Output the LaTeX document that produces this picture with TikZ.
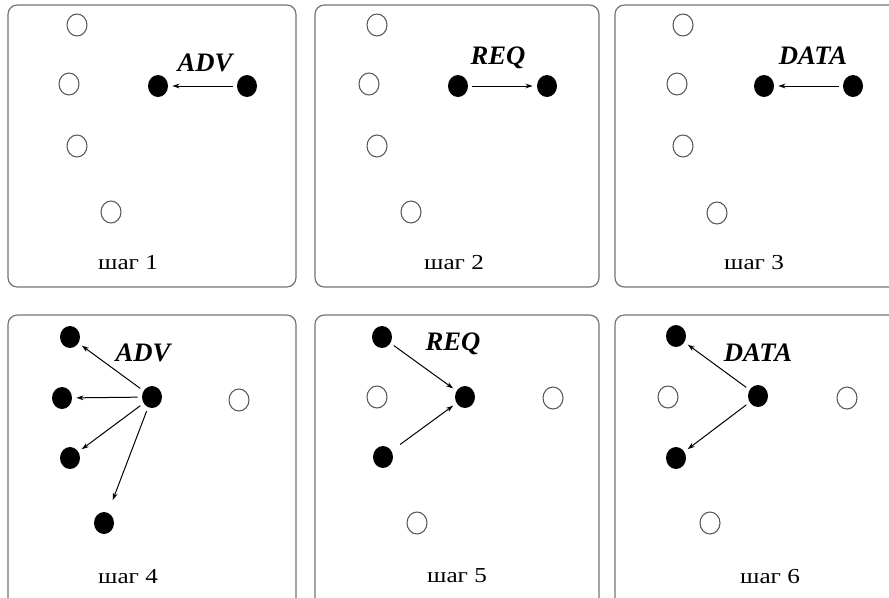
\documentclass[tikz,border=0pt]{standalone}
\usepackage{fontspec}
\setmainfont{Liberation Serif}
\newfontfamily\shagfont[FakeStretch=1.18]{Liberation Serif}
\usetikzlibrary{shapes.geometric, arrows.meta}
\tikzstyle{panel} = [rounded corners=7pt, draw=black!55, line width=0.9pt]
\tikzstyle{idle} = [ellipse, minimum width=15pt, minimum height=16.5pt, inner sep=0pt, draw=black!65, line width=0.8pt, fill=white]
\tikzstyle{busy} = [ellipse, minimum width=15pt, minimum height=16.5pt, inner sep=0pt, fill=black]
\tikzstyle{msg} = [font=\fontsize{20}{24}\selectfont\bfseries\itshape]
\tikzstyle{shag} = [font=\shagfont\fontsize{16}{19}\selectfont]
\tikzstyle{arrow} = [-{Stealth[length=5.5pt, width=3.6pt]}, line width=0.75pt, shorten >=3pt, shorten <=3pt]

\begin{document}
\begin{tikzpicture}[x=0.75pt, y=-0.75pt]

		\useasboundingbox (0,0) rectangle (889,597);
		\clip (0,0) rectangle (889,597);

		% panels
		\draw [panel] (8,5) rectangle (296,287);
		\draw [panel] (315,5) rectangle (599,287);
		\draw [panel] (615,5) rectangle (899,287);
		\draw [panel] (8,315) rectangle (296,607);
		\draw [panel] (315,315) rectangle (599,607);
		\draw [panel] (615,315) rectangle (899,607);

		% step 1
		\node (a1) [idle] at (77,25) {};
		\node (a2) [idle] at (69,84) {};
		\node (a3) [idle] at (77,146) {};
		\node (a4) [idle] at (111,212) {};
		\node (a5) [busy] at (158,86) {};
		\node (a6) [busy] at (247,86) {};
		\node (adv1) [msg] at (205,63) {ADV};
		\node (step1) [shag] at (128,263) {шаг 1};
		\draw [arrow] (a6) -- (a5);

		% step 2
		\node (b1) [idle] at (377,25) {};
		\node (b2) [idle] at (369,84) {};
		\node (b3) [idle] at (377,146) {};
		\node (b4) [idle] at (411,212) {};
		\node (b5) [busy] at (458,86) {};
		\node (b6) [busy] at (547,86) {};
		\node (req2) [msg] at (498,58) {REQ};
		\node (step2) [shag] at (454,263) {шаг 2};
		\draw [arrow] (b5) -- (b6);

		% step 3
		\node (c1) [idle] at (683,25) {};
		\node (c2) [idle] at (677,84) {};
		\node (c3) [idle] at (683,146) {};
		\node (c4) [idle] at (717,213) {};
		\node (c5) [busy] at (764,86) {};
		\node (c6) [busy] at (853,86) {};
		\node (data3) [msg] at (813,56) {DATA};
		\node (step3) [shag] at (754,263) {шаг 3};
		\draw [arrow] (c6) -- (c5);

		% step 4
		\node (d1) [busy] at (70,337) {};
		\node (d2) [busy] at (62,398) {};
		\node (d3) [busy] at (70,458) {};
		\node (d4) [busy] at (104,523) {};
		\node (d5) [busy] at (152,397) {};
		\node (d6) [idle] at (239,400) {};
		\node (adv4) [msg] at (143,353) {ADV};
		\node (step4) [shag] at (128,577) {шаг 4};
		\draw [arrow] (d5) -- (d1);
		\draw [arrow] (d5) -- (d2);
		\draw [arrow] (d5) -- (d3);
		\draw [arrow, shorten >=10pt] (d5) -- (d4);

		% step 5
		\node (e1) [busy] at (382,337) {};
		\node (e2) [idle] at (377,397) {};
		\node (e3) [busy] at (383,457) {};
		\node (e4) [idle] at (417,523) {};
		\node (e5) [busy] at (465,397) {};
		\node (e6) [idle] at (553,398) {};
		\node (req5) [msg] at (453,344) {REQ};
		\node (step5) [shag] at (457,576) {шаг 5};
		\draw [arrow] (e1) -- (e5);
		\draw [arrow, shorten <=8pt] (e3) -- (e5);

		% step 6
		\node (f1) [busy] at (676,336) {};
		\node (f2) [idle] at (668,397) {};
		\node (f3) [busy] at (676,458) {};
		\node (f4) [idle] at (710,523) {};
		\node (f5) [busy] at (758,396) {};
		\node (f6) [idle] at (847,398) {};
		\node (data6) [msg] at (758,353) {DATA};
		\node (step6) [shag] at (770,577) {шаг 6};
		\draw [arrow] (f5) -- (f1);
		\draw [arrow] (f5) -- (f3);

\end{tikzpicture}
\end{document}
